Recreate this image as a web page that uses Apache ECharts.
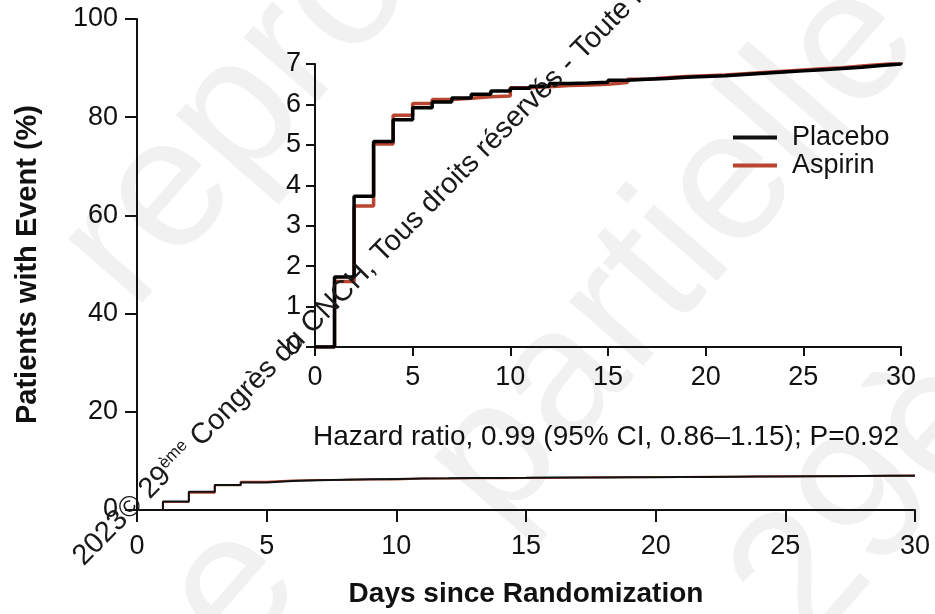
<!DOCTYPE html>
<html><head><meta charset="utf-8">
<script src="https://cdn.jsdelivr.net/npm/echarts@6/dist/echarts.min.js"></script>
<style>html,body{margin:0;padding:0;background:#fff}#c{width:935px;height:614px}</style>
</head><body><div id="c"></div>
<script>
// ---- data ----
const days = [0,1,2,3,4,5,6,7,8,9,10,11,12,13,14,15,16,17,18,19,20,21,22,23,24,25,26,27,28,29,30];
const placebo = [0,1.73,3.73,5.08,5.62,5.92,6.06,6.16,6.25,6.33,6.40,6.45,6.52,6.53,6.55,6.60,6.62,6.64,6.67,6.69,6.71,6.74,6.77,6.80,6.83,6.86,6.89,6.92,6.96,7.00,7.03];
const aspirin = [0,1.62,3.49,5.02,5.73,6.02,6.12,6.15,6.19,6.21,6.41,6.44,6.47,6.48,6.50,6.54,6.62,6.66,6.69,6.71,6.73,6.76,6.79,6.82,6.85,6.88,6.91,6.95,6.99,7.03,7.06];
const seriesNames = ['Placebo','Aspirin'];
const xTitle = 'Days since Randomization';
const yTitle = 'Patients with Event (%)';
const hazardText = 'Hazard ratio, 0.99 (95% CI, 0.86\u20131.15); P=0.92';
const watermark = '2023\u00a9 29{sup|\u00e8me} Congr\u00e8s du CNCH, Tous droits r\u00e9serv\u00e9s - Toute reproduction';
const bigMarks = ['reproduction', 'm\u00eame', 'partielle', '29\u00e8me Congr\u00e8s'];

// ---- styling ----
const FONT = '"Liberation Sans", Arial, sans-serif';
const INK = '#111';
const RED = '#b8452f';
const chart = echarts.init(document.getElementById('c'), null, {renderer: 'canvas'});
const pairs = arr => days.map((d, i) => [d, arr[i]]);

function axisStyle(tickLen, margin) {
  return {
    axisLine: {show: true, onZero: false, lineStyle: {color: INK, width: 2}},
    axisTick: {show: true, length: tickLen, lineStyle: {color: INK, width: 2}},
    axisLabel: {fontSize: 27, color: INK, margin: margin, fontFamily: FONT},
    splitLine: {show: false}
  };
}
const deg = Math.PI / 180;
const faint = (txt, x, y) => ({type: 'text', x: x, y: y, rotation: 49 * deg, z: -10, silent: true,
  style: {text: txt, fontSize: 185, fontFamily: FONT, fill: '#f1f1f1', verticalAlign: 'bottom'}});

const option = {
  animation: false,
  backgroundColor: '#fff',
  grid: [
    {left: 137, right: 20, top: 19, bottom: 104},
    {left: 315, right: 34, top: 64, bottom: 267}
  ],
  xAxis: [
    Object.assign({gridIndex: 0, type: 'value', min: 0, max: 30, interval: 5,
      name: xTitle, nameLocation: 'middle', nameGap: 70,
      nameTextStyle: {fontSize: 28, fontWeight: 'bold', color: INK, fontFamily: FONT}}, axisStyle(12, 23)),
    Object.assign({gridIndex: 1, type: 'value', min: 0, max: 30, interval: 5}, axisStyle(9, 17))
  ],
  yAxis: [
    Object.assign({gridIndex: 0, type: 'value', min: 0, max: 100, interval: 20,
      name: yTitle, nameLocation: 'middle', nameGap: 95,
      nameTextStyle: {fontSize: 29, fontWeight: 'bold', color: INK, fontFamily: FONT}}, axisStyle(12, 19)),
    Object.assign({gridIndex: 1, type: 'value', min: 0, max: 7, interval: 1}, axisStyle(9, 14))
  ],
  legend: {
    data: seriesNames,
    orient: 'vertical',
    left: 733, top: 124,
    padding: 0,
    icon: 'rect',
    itemWidth: 44, itemHeight: 4, itemGap: 1,
    textStyle: {fontSize: 27, color: INK, fontFamily: FONT, lineHeight: 27, padding: [0, 0, 0, 10]},
    selectedMode: false
  },
  series: [
    {name: seriesNames[1], type: 'line', step: 'end', xAxisIndex: 0, yAxisIndex: 0, data: pairs(aspirin),
      showSymbol: false, color: RED, lineStyle: {width: 2, color: RED}, z: 3},
    {name: seriesNames[0], type: 'line', step: 'end', xAxisIndex: 0, yAxisIndex: 0, data: pairs(placebo),
      showSymbol: false, color: INK, lineStyle: {width: 2, color: INK}, z: 4},
    {name: seriesNames[1], type: 'line', step: 'end', xAxisIndex: 1, yAxisIndex: 1, data: pairs(aspirin),
      showSymbol: false, color: RED, lineStyle: {width: 3.5, color: RED}, z: 3},
    {name: seriesNames[0], type: 'line', step: 'end', xAxisIndex: 1, yAxisIndex: 1, data: pairs(placebo),
      showSymbol: false, color: INK, lineStyle: {width: 3.5, color: '#000'}, z: 4}
  ],
  graphic: [
    faint(bigMarks[0], 165, 340),
    faint(bigMarks[1], 0, 1000),
    faint(bigMarks[2], 531, 558),
    faint(bigMarks[3], 840, 680),
    {type: 'text', x: 313, y: 437, z: 10, silent: true,
      style: {text: hazardText, fontSize: 28, fontFamily: FONT, fill: INK, verticalAlign: 'middle'}},
    {type: 'text', x: 78, y: 561, rotation: 45.4 * deg, z: 100, silent: true,
      style: {text: watermark, fontSize: 29, fontFamily: FONT, fill: '#1a1a1a', verticalAlign: 'middle',
        rich: {sup: {fontSize: 17, fontFamily: FONT, fill: '#1a1a1a', verticalAlign: 'top', padding: [0, 0, 14, 0]}}}}
  ]
};
chart.setOption(option);
</script>
</body></html>
